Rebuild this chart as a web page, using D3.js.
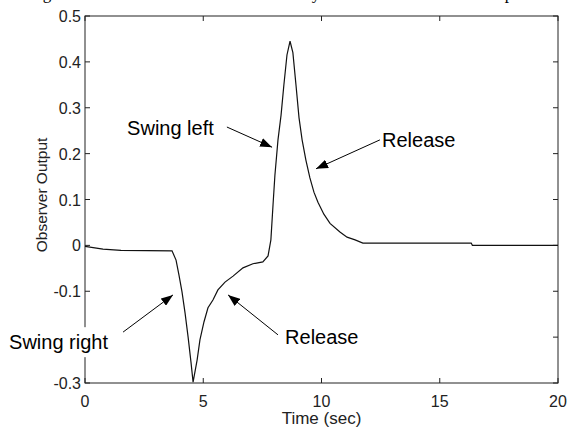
<!DOCTYPE html>
<html>
<head>
<meta charset="utf-8">
<script src="https://cdn.jsdelivr.net/npm/d3@7"></script>
<style>
  body { margin: 0; background: #fff; }
  svg { display: block; }
</style>
</head>
<body>
<script>
// observer output
var time = [0, 0.76, 1.52, 3.68, 3.85, 3.97, 4.10, 4.23, 4.36, 4.48, 4.57, 4.74, 4.86, 5.03, 5.2, 5.41,
	5.62, 5.92, 6.26, 6.68, 7.1, 7.52, 7.74, 7.86, 7.95, 8.03, 8.16, 8.29, 8.41, 8.54, 8.67, 8.79, 8.92,
	9.05, 9.18, 9.34, 9.51, 9.68, 9.85, 10.1, 10.36, 10.78, 11.08, 11.42, 11.75, 16.33, 16.38, 20];
var output = [-0.002, -0.008, -0.011, -0.012, -0.032, -0.064, -0.101, -0.147, -0.2, -0.254, -0.298, -0.25,
	-0.206, -0.167, -0.136, -0.119, -0.097, -0.08, -0.067, -0.049, -0.04, -0.036, -0.023, 0.012, 0.088,
	0.153, 0.23, 0.284, 0.35, 0.415, 0.445, 0.42, 0.35, 0.278, 0.23, 0.186, 0.147, 0.116, 0.094, 0.068,
	0.048, 0.029, 0.018, 0.012, 0.005, 0.005, 0, 0];

var xTicks = [0, 5, 10, 15, 20];
var yTicks = [0.5, 0.4, 0.3, 0.2, 0.1, 0, -0.1, -0.2, -0.3];
// -0.2 label sits under the "Swing right" note in the original
var yLabels = [0.5, 0.4, 0.3, 0.2, 0.1, 0, -0.1, -0.3];

// annotations: label, text anchor point, arrow start, arrow tip (data units)
var notes = [
	{label: 'Swing left', tx: 1.78, ty: 0.256, x1: 6.0, y1: 0.258, x2: 7.91, y2: 0.214},
	{label: 'Release', tx: 12.56, ty: 0.23, x1: 12.47, y1: 0.23, x2: 9.77, y2: 0.167},
	{label: 'Swing right', tx: -3.21, ty: -0.211, x1: 1.61, y1: -0.189, x2: 3.72, y2: -0.108},
	{label: 'Release', tx: 8.46, ty: -0.2, x1: 8.16, y1: -0.195, x2: 6.05, y2: -0.108}
];

// bits of the caption line cut off above the figure
var caption = [{t: 'g', x: 47}, {t: 'y', x: 316}, {t: 'p', x: 509}];

var W = 568, H = 427;
var padL = 85, padR = 558, padT = 16, padB = 383;

var svg = d3.select('body').append('svg').attr('width', W).attr('height', H);

var x = d3.scaleLinear().domain([0, 20]).range([padL, padR]);
var y = d3.scaleLinear().domain([-0.3, 0.5]).range([padB, padT]);

svg.selectAll('.cap').data(caption).enter().append('text')
	.attr('x', d => d.x).attr('y', -1)
	.attr('text-anchor', 'middle')
	.attr('font-family', 'Liberation Serif, Times New Roman, serif')
	.attr('font-size', '17px')
	.text(d => d.t);

var sans = 'Liberation Sans, Arial, Helvetica, sans-serif';

// axes, MATLAB style: box with inward ticks on all sides
var axisG = svg.append('g').attr('stroke', '#222').attr('stroke-width', 1);
axisG.append('rect')
	.attr('x', padL).attr('y', padT)
	.attr('width', padR - padL).attr('height', padB - padT)
	.attr('fill', 'none');

var tl = 5;
xTicks.forEach(function(t){
	axisG.append('line').attr('x1', x(t)).attr('x2', x(t)).attr('y1', padB).attr('y2', padB - tl);
	axisG.append('line').attr('x1', x(t)).attr('x2', x(t)).attr('y1', padT).attr('y2', padT + tl);
});
yTicks.forEach(function(v){
	axisG.append('line').attr('x1', padL).attr('x2', padL + tl).attr('y1', y(v)).attr('y2', y(v));
	axisG.append('line').attr('x1', padR).attr('x2', padR - tl).attr('y1', y(v)).attr('y2', y(v));
});

svg.selectAll('.xt').data(xTicks).enter().append('text')
	.attr('x', d => x(d)).attr('y', padB + 24)
	.attr('text-anchor', 'middle')
	.attr('font-family', sans).attr('font-size', '16px').attr('fill', '#222')
	.text(d => d);

svg.selectAll('.yt').data(yLabels).enter().append('text')
	.attr('x', padL - 4).attr('y', d => y(d) + 6)
	.attr('text-anchor', 'end')
	.attr('font-family', sans).attr('font-size', '16px').attr('fill', '#222')
	.text(d => String(d));

svg.append('text')
	.attr('x', x(10)).attr('y', 424)
	.attr('text-anchor', 'middle')
	.attr('font-family', sans).attr('font-size', '17px').attr('fill', '#222')
	.text('Time (sec)');

svg.append('text')
	.attr('transform', 'translate(47,' + y(0.11) + ') rotate(-90)')
	.attr('text-anchor', 'middle')
	.attr('font-family', sans).attr('font-size', '15.5px').attr('fill', '#222')
	.text('Observer Output');

// the curve
var pts = time.map((t, i) => [t, output[i]]);
svg.append('path')
	.datum(pts)
	.attr('fill', 'none')
	.attr('stroke', '#111')
	.attr('stroke-width', 1.2)
	.attr('d', d3.line().x(d => x(d[0])).y(d => y(d[1])));

// annotations
svg.append('defs').append('marker')
	.attr('id', 'head')
	.attr('viewBox', '0 0 12 9')
	.attr('refX', 12).attr('refY', 4.5)
	.attr('markerWidth', 12).attr('markerHeight', 9)
	.attr('markerUnits', 'userSpaceOnUse')
	.attr('orient', 'auto')
	.append('path').attr('d', 'M0,0 L12,4.5 L0,9 Z').attr('fill', '#000');

notes.forEach(function(n){
	var g = svg.append('g');
	var bg = g.append('rect').attr('fill', '#fff');
	var txt = g.append('text')
		.attr('x', x(n.tx)).attr('y', y(n.ty) + 7)
		.attr('font-family', sans).attr('font-size', '20px').attr('fill', '#000')
		.text(n.label);
	var b = txt.node().getBBox();
	bg.attr('x', b.x - 4).attr('y', b.y - 4).attr('width', b.width + 8).attr('height', b.height + 8);
	g.append('line')
		.attr('x1', x(n.x1)).attr('y1', y(n.y1))
		.attr('x2', x(n.x2)).attr('y2', y(n.y2))
		.attr('stroke', '#000').attr('stroke-width', 1)
		.attr('marker-end', 'url(#head)');
});
</script>
</body>
</html>
